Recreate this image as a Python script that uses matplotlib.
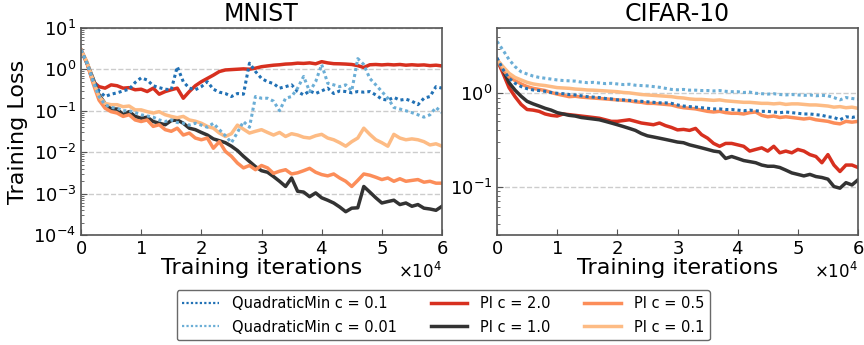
import matplotlib
matplotlib.use('Agg')
import matplotlib.pyplot as plt
import numpy as np
from matplotlib.ticker import ScalarFormatter, LogLocator, NullFormatter

# iterations, one reading every 1000 steps
iters = np.arange(0, 61) * 1000

# ---- MNIST ----
mnist_qm_01 = [2.9, 1.4, 0.55, 0.3, 0.22, 0.25, 0.27, 0.3, 0.33, 0.48,
               0.62, 0.55, 0.4, 0.36, 0.33, 0.32, 1.15, 0.5, 0.35, 0.32,
               0.38, 0.5, 0.33, 0.28, 0.26, 0.22, 0.26, 0.25, 1.4, 0.88,
               0.6, 0.5, 0.45, 0.35, 0.38, 0.42, 0.29, 0.24, 0.3, 0.26,
               0.3, 0.35, 0.26, 0.3, 0.29, 0.27, 0.29, 0.28, 0.29, 0.24,
               0.19, 0.18, 0.21, 0.18, 0.19, 0.17, 0.14, 0.2, 0.22, 0.38, 0.35]
mnist_qm_001 = [2.9, 1.4, 0.5, 0.22, 0.14, 0.12, 0.115, 0.1, 0.1, 0.09,
                0.08, 0.075, 0.07, 0.06, 0.055, 0.06, 0.052, 0.05, 0.045, 0.05,
                0.045, 0.04, 0.05, 0.035, 0.025, 0.017, 0.03, 0.055, 0.04, 0.22,
                0.2, 0.2, 0.17, 0.1, 0.2, 0.22, 0.35, 0.67, 0.29, 0.5,
                1.3, 0.46, 0.42, 0.38, 0.42, 0.3, 1.8, 1.3, 0.6, 0.42,
                0.29, 0.2, 0.12, 0.11, 0.1, 0.09, 0.08, 0.07, 0.08, 0.12, 0.09]
mnist_pi_20 = [2.9, 1.4, 0.5, 0.38, 0.35, 0.42, 0.4, 0.35, 0.36, 0.32,
               0.33, 0.29, 0.35, 0.25, 0.29, 0.32, 0.35, 0.2, 0.29, 0.4,
               0.5, 0.6, 0.72, 0.88, 0.96, 0.98, 1.0, 1.02, 1.0, 1.06,
               1.15, 1.2, 1.25, 1.28, 1.33, 1.35, 1.4, 1.38, 1.42, 1.35,
               1.52, 1.42, 1.36, 1.35, 1.33, 1.3, 1.22, 1.1, 1.28, 1.3,
               1.27, 1.3, 1.27, 1.3, 1.25, 1.28, 1.25, 1.27, 1.22, 1.25, 1.2]
mnist_pi_10 = [2.9, 1.4, 0.6, 0.24, 0.15, 0.11, 0.11, 0.08, 0.095, 0.073,
               0.066, 0.07, 0.055, 0.05, 0.046, 0.058, 0.06, 0.05, 0.038, 0.035,
               0.03, 0.026, 0.021, 0.019, 0.017, 0.014, 0.011, 0.008, 0.006, 0.0045,
               0.0036, 0.0033, 0.0026, 0.002, 0.0015, 0.0024, 0.00115, 0.0011, 0.00085, 0.00105,
               0.0008, 0.0007, 0.0006, 0.00048, 0.00037, 0.00045, 0.00046, 0.0015, 0.0011, 0.0008,
               0.0006, 0.00065, 0.0007, 0.00055, 0.0006, 0.0005, 0.00055, 0.00045, 0.00043, 0.0004, 0.0005]
mnist_pi_05 = [2.9, 1.4, 0.46, 0.18, 0.115, 0.095, 0.088, 0.073, 0.08, 0.06,
               0.055, 0.06, 0.042, 0.046, 0.035, 0.032, 0.038, 0.026, 0.029, 0.022,
               0.02, 0.022, 0.0125, 0.018, 0.0105, 0.008, 0.0055, 0.0042, 0.0048, 0.0038,
               0.0048, 0.0042, 0.0031, 0.0035, 0.0038, 0.003, 0.0032, 0.0036, 0.0041, 0.0033,
               0.0029, 0.0027, 0.003, 0.0024, 0.002, 0.0015, 0.0021, 0.003, 0.0028, 0.0025,
               0.0022, 0.0024, 0.002, 0.0023, 0.002, 0.0021, 0.0022, 0.0019, 0.002, 0.0018, 0.0018]
mnist_pi_01 = [2.9, 1.5, 0.55, 0.22, 0.15, 0.14, 0.14, 0.125, 0.13, 0.105,
               0.105, 0.095, 0.088, 0.095, 0.08, 0.073, 0.068, 0.073, 0.06, 0.056,
               0.05, 0.042, 0.038, 0.029, 0.024, 0.028, 0.045, 0.036, 0.029, 0.032,
               0.035, 0.03, 0.026, 0.03, 0.024, 0.028, 0.026, 0.023, 0.022, 0.025,
               0.027, 0.022, 0.02, 0.017, 0.014, 0.018, 0.022, 0.038, 0.027, 0.02,
               0.017, 0.014, 0.027, 0.022, 0.02, 0.021, 0.02, 0.018, 0.015, 0.016, 0.014]

# ---- CIFAR-10 ----
cifar_qm_01 = [2.4, 1.8, 1.45, 1.28, 1.18, 1.12, 1.085, 1.07, 1.05, 1.02,
               1.0, 0.99, 0.97, 0.96, 0.94, 0.92, 0.91, 0.9, 0.88, 0.87,
               0.85, 0.85, 0.84, 0.83, 0.82, 0.81, 0.8, 0.79, 0.79, 0.78,
               0.75, 0.73, 0.72, 0.71, 0.7, 0.69, 0.68, 0.68, 0.67, 0.67,
               0.66, 0.65, 0.66, 0.65, 0.64, 0.64, 0.63, 0.62, 0.63, 0.62,
               0.61, 0.6, 0.6, 0.59, 0.58, 0.56, 0.55, 0.52, 0.56, 0.55, 0.57]
cifar_qm_001 = [3.6, 2.9, 2.3, 1.93, 1.7, 1.61, 1.53, 1.48, 1.45, 1.42,
                1.39, 1.37, 1.36, 1.35, 1.32, 1.3, 1.31, 1.29, 1.27, 1.28,
                1.26, 1.24, 1.25, 1.22, 1.21, 1.2, 1.18, 1.16, 1.13, 1.1,
                1.09, 1.1, 1.08, 1.08, 1.07, 1.07, 1.06, 1.07, 1.05, 1.04,
                1.04, 1.02, 1.03, 1.0, 0.99, 0.98, 0.99, 0.97, 0.96, 0.97,
                0.96, 0.95, 0.96, 0.94, 0.95, 0.94, 0.9, 0.85, 0.9, 0.88, 0.86]
cifar_pi_20 = [2.3, 1.64, 1.15, 0.92, 0.76, 0.67, 0.66, 0.64, 0.6, 0.58,
               0.57, 0.6, 0.59, 0.58, 0.57, 0.56, 0.55, 0.54, 0.52, 0.5,
               0.5, 0.51, 0.52, 0.5, 0.48, 0.47, 0.46, 0.48, 0.45, 0.43,
               0.405, 0.41, 0.4, 0.42, 0.36, 0.33, 0.29, 0.27, 0.29, 0.29,
               0.28, 0.27, 0.24, 0.25, 0.26, 0.24, 0.27, 0.23, 0.24, 0.23,
               0.25, 0.24, 0.22, 0.21, 0.18, 0.22, 0.17, 0.145, 0.17, 0.17, 0.16]
cifar_pi_10 = [2.3, 1.78, 1.3, 1.08, 0.93, 0.82, 0.77, 0.73, 0.69, 0.66,
               0.62, 0.6, 0.58, 0.57, 0.55, 0.54, 0.53, 0.52, 0.5, 0.48,
               0.46, 0.44, 0.42, 0.4, 0.37, 0.35, 0.34, 0.33, 0.32, 0.31,
               0.3, 0.295, 0.28, 0.27, 0.26, 0.25, 0.24, 0.235, 0.2, 0.21,
               0.2, 0.19, 0.185, 0.18, 0.17, 0.165, 0.165, 0.16, 0.15, 0.14,
               0.135, 0.13, 0.135, 0.128, 0.125, 0.12, 0.1, 0.096, 0.11, 0.104, 0.118]
cifar_pi_05 = [2.3, 1.78, 1.5, 1.37, 1.26, 1.18, 1.13, 1.1, 1.07, 1.02,
               0.98, 0.95, 0.92, 0.93, 0.91, 0.9, 0.89, 0.88, 0.87, 0.86,
               0.85, 0.84, 0.83, 0.81, 0.8, 0.78, 0.78, 0.77, 0.76, 0.75,
               0.72, 0.7, 0.69, 0.68, 0.66, 0.64, 0.63, 0.64, 0.62, 0.61,
               0.61, 0.6, 0.62, 0.63, 0.58, 0.56, 0.57, 0.55, 0.56, 0.55,
               0.54, 0.53, 0.54, 0.52, 0.51, 0.5, 0.48, 0.47, 0.5, 0.49, 0.5]
cifar_pi_01 = [2.3, 1.93, 1.64, 1.48, 1.39, 1.31, 1.26, 1.23, 1.21, 1.18,
               1.15, 1.14, 1.13, 1.11, 1.1, 1.085, 1.08, 1.07, 1.06, 1.05,
               1.04, 1.02, 1.01, 0.99, 0.97, 0.96, 0.95, 0.94, 0.93, 0.92,
               0.9, 0.89, 0.87, 0.86, 0.86, 0.85, 0.84, 0.85, 0.83, 0.82,
               0.81, 0.8, 0.8, 0.79, 0.78, 0.78, 0.77, 0.78, 0.76, 0.77,
               0.77, 0.76, 0.75, 0.75, 0.74, 0.73, 0.71, 0.72, 0.7, 0.71, 0.69]

labels = ['QuadraticMin c = 0.1', 'QuadraticMin c = 0.01', 'PI c = 2.0',
          'PI c = 1.0', 'PI c = 0.5', 'PI c = 0.1']
colors = ['#2171b5', '#6baed6', '#d7301f', '#333333', '#fc8d59', '#fdbb84']
styles = [(0, (1, 1)), (0, (1, 1)), '-', '-', '-', '-']

mnist = [mnist_qm_01, mnist_qm_001, mnist_pi_20, mnist_pi_10, mnist_pi_05, mnist_pi_01]
cifar = [cifar_qm_01, cifar_qm_001, cifar_pi_20, cifar_pi_10, cifar_pi_05, cifar_pi_01]

# draw order: solid curves first, dotted on top
order = [2, 3, 4, 5, 0, 1]

fig = plt.figure(figsize=(8.64, 3.45), dpi=100)
ax1 = fig.add_axes([81 / 864, 1 - 235.3 / 345, 361 / 864, 207.6 / 345])
ax2 = fig.add_axes([497 / 864, 1 - 235.3 / 345, 361 / 864, 207.6 / 345])

handles = [None] * 6
for ax, series in [(ax1, mnist), (ax2, cifar)]:
    for i in order:
        lw = 2.2 if i < 2 else 2.5
        ln, = ax.plot(iters, series[i], linestyle=styles[i], color=colors[i],
                      linewidth=lw, label=labels[i])
        handles[i] = ln
    ax.set_yscale('log')
    ax.set_xlim(0, 60000)
    ax.set_xticks(np.arange(0, 60001, 10000))
    fmt = ScalarFormatter(useMathText=True)
    fmt.set_powerlimits((0, 0))
    ax.xaxis.set_major_formatter(fmt)
    ax.xaxis.get_offset_text().set_fontsize(12)
    ax.yaxis.grid(True, which='major', linestyle='--', color='#cccccc', linewidth=1)
    ax.set_axisbelow(True)
    ax.yaxis.set_minor_locator(LogLocator(base=10, subs=np.arange(2, 10), numticks=20))
    ax.yaxis.set_minor_formatter(NullFormatter())
    ax.tick_params(axis='both', which='major', direction='in', labelsize=13,
                   length=4, color='#555555')
    ax.tick_params(axis='y', which='minor', direction='in', length=2, color='#555555')
    for sp in ax.spines.values():
        sp.set_color('#555555')
        sp.set_linewidth(1.2)
    ax.set_xlabel('Training iterations', fontsize=16, labelpad=0)

ax1.set_ylim(1e-4, 10)
ax1.set_yticks([1e-4, 1e-3, 1e-2, 1e-1, 1e0, 1e1])
ax1.set_ylabel('Training Loss', fontsize=16)
ax1.set_title('MNIST', fontsize=17, pad=5)

ax2.set_ylim(0.03, 5.05)
ax2.set_yticks([1e-1, 1e0])
ax2.set_title('CIFAR-10', fontsize=17, pad=5)

leg = fig.legend(handles, labels, ncol=3, loc='upper center',
                 bbox_to_anchor=(0.513, 1 - 290 / 345), fontsize=10.5,
                 frameon=True, fancybox=True, handlelength=2.5,
                 handletextpad=0.9, columnspacing=2.3, labelspacing=0.6,
                 borderaxespad=0)
leg.get_frame().set_edgecolor('#444444')
for h in leg.get_lines()[:2]:
    h.set_linewidth(1.6)

fig.savefig('out.png', dpi=100)
